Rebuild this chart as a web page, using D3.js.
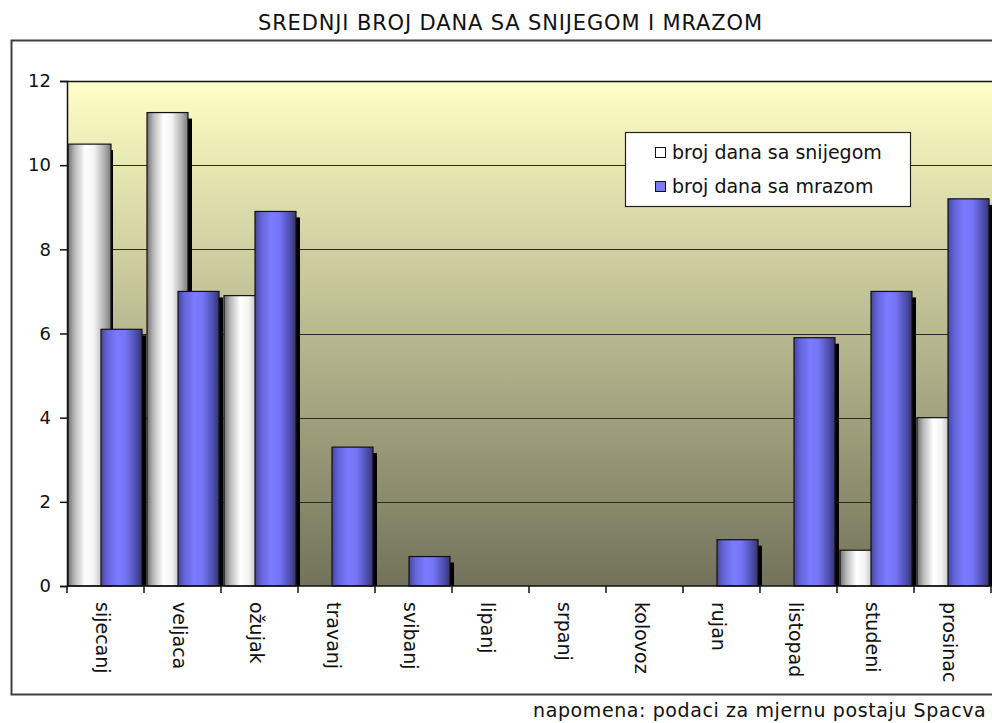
<!DOCTYPE html>
<html>
<head>
<meta charset="utf-8">
<script src="https://cdn.jsdelivr.net/npm/d3@7"></script>
<style>
  body { margin: 0; background: #fff; }
  text { font-family: "DejaVu Sans", Verdana, sans-serif; }
</style>
</head>
<body>
<div id="canvas"></div>
<script>
//chart data
var months = ['sijecanj', 'veljaca', 'ožujak', 'travanj', 'svibanj', 'lipanj',
  'srpanj', 'kolovoz', 'rujan', 'listopad', 'studeni', 'prosinac'];
var snowDays = [10.5, 11.25, 6.9, 0, 0, 0, 0, 0, 0, 0, 0.85, 4.0];
var frostDays = [6.1, 7.0, 8.9, 3.3, 0.7, 0, 0, 0, 1.1, 5.9, 7.0, 9.2];
var yTicks = [0, 2, 4, 6, 8, 10, 12];
var seriesNames = ['broj dana sa snijegom', 'broj dana sa mrazom'];
var title = 'SREDNJI BROJ DANA SA SNIJEGOM I MRAZOM';
var note = 'napomena: podaci za mjernu postaju Spacva';

//canvas settings
var cv = {
  'width': 992,
  'height': 723,
  'plotLeft': 67,
  'plotRight': 991,
  'plotTop': 81,
  'plotBottom': 586
};

var svg = d3.select('#canvas').append('svg')
  .attr('width', cv.width)
  .attr('height', cv.height);

var defs = svg.append('defs');

//plot background gradient
var bg = defs.append('linearGradient')
  .attr('id', 'bgGrad')
  .attr('x1', 0).attr('y1', 0).attr('x2', 0).attr('y2', 1);
bg.append('stop').attr('offset', '0%').attr('stop-color', '#ffffc6');
bg.append('stop').attr('offset', '100%').attr('stop-color', '#72725a');

//bar gradients (cylinder look)
function barGradient(id, stops) {
  var g = defs.append('linearGradient')
    .attr('id', id)
    .attr('x1', 0).attr('y1', 0).attr('x2', 1).attr('y2', 0);
  stops.forEach(function(s) {
    g.append('stop').attr('offset', s[0]).attr('stop-color', s[1]);
  });
}
barGradient('snowGrad', [['0%', '#6e6e6e'], ['15%', '#b8b8b8'], ['40%', '#ffffff'], ['60%', '#f4f4f4'], ['85%', '#b0b0b0'], ['100%', '#7a7a7a']]);
barGradient('frostGrad', [['0%', '#45459a'], ['15%', '#6464d8'], ['40%', '#7b7bff'], ['60%', '#7474f4'], ['85%', '#4e4eb0'], ['100%', '#35356e']]);

//scales
var xScale = d3.scaleBand()
  .domain(months)
  .range([cv.plotLeft, cv.plotRight])
  .padding(0);

var yScale = d3.scaleLinear()
  .domain([0, 12])
  .range([cv.plotBottom, cv.plotTop]);

//outer frame (extends past the right edge)
svg.append('path')
  .attr('d', 'M' + (cv.width + 5) + ',40.5 H11.5 V694.5 H' + (cv.width + 5))
  .attr('fill', 'none')
  .attr('stroke', '#404040')
  .attr('stroke-width', 2);

//title
svg.append('text')
  .attr('x', 258)
  .attr('y', 30)
  .attr('font-size', 21)
  .attr('textLength', 504)
  .attr('lengthAdjust', 'spacing')
  .attr('fill', '#111')
  .text(title);

//plot background
svg.append('rect')
  .attr('x', cv.plotLeft)
  .attr('y', cv.plotTop)
  .attr('width', cv.plotRight - cv.plotLeft + 10)
  .attr('height', cv.plotBottom - cv.plotTop)
  .attr('fill', 'url(#bgGrad)');

//gridlines
svg.selectAll('.grid')
  .data(yTicks.filter(d => d > 0))
  .enter().append('line')
  .attr('class', 'grid')
  .attr('x1', cv.plotLeft)
  .attr('x2', cv.width + 5)
  .attr('y1', d => Math.round(yScale(d)) + 0.5)
  .attr('y2', d => Math.round(yScale(d)) + 0.5)
  .attr('stroke', '#2a2a2a')
  .attr('stroke-width', 1);

//bars
var bandW = xScale.bandwidth();
var snowX = (d, i) => xScale(d) + (i === 0 ? 1 : 3);
var frostX = d => xScale(d) + 34;
var barW = 41;

var groups = svg.selectAll('.month')
  .data(months)
  .enter().append('g')
  .attr('class', 'month');

groups.each(function(d, i) {
  var g = d3.select(this);
  //snow bar with shadow
  if (snowDays[i] > 0) {
    g.append('rect')
      .attr('x', snowX(d, i) + 4)
      .attr('y', yScale(snowDays[i]) + 6)
      .attr('width', barW)
      .attr('height', cv.plotBottom - yScale(snowDays[i]) - 6)
      .attr('fill', '#000');
    g.append('rect')
      .attr('x', snowX(d, i))
      .attr('y', yScale(snowDays[i]))
      .attr('width', barW + (i === 0 ? 2 : 0))
      .attr('height', cv.plotBottom - yScale(snowDays[i]))
      .attr('fill', 'url(#snowGrad)')
      .attr('stroke', '#111')
      .attr('stroke-width', 1.2);
  }
  //frost bar with shadow
  if (frostDays[i] > 0) {
    g.append('rect')
      .attr('x', frostX(d) + 4)
      .attr('y', yScale(frostDays[i]) + 6)
      .attr('width', barW)
      .attr('height', cv.plotBottom - yScale(frostDays[i]) - 6)
      .attr('fill', '#000');
    g.append('rect')
      .attr('x', frostX(d))
      .attr('y', yScale(frostDays[i]))
      .attr('width', barW)
      .attr('height', cv.plotBottom - yScale(frostDays[i]))
      .attr('fill', 'url(#frostGrad)')
      .attr('stroke', '#111')
      .attr('stroke-width', 1.2);
  }
});

//top plot border
svg.append('line')
  .attr('x1', cv.plotLeft)
  .attr('x2', cv.width + 5)
  .attr('y1', cv.plotTop + 0.5)
  .attr('y2', cv.plotTop + 0.5)
  .attr('stroke', '#111')
  .attr('stroke-width', 1.5);

//y axis
var yAxis = d3.axisLeft(yScale)
  .tickValues(yTicks)
  .tickSize(7)
  .tickPadding(9);

var yG = svg.append('g')
  .attr('transform', 'translate(' + cv.plotLeft + ',0)')
  .call(yAxis);
yG.selectAll('path, line').attr('stroke', '#111').attr('stroke-width', 1.5);
yG.selectAll('text')
  .attr('font-size', 18)
  .attr('font-family', '"DejaVu Sans", Verdana, sans-serif')
  .attr('fill', '#111');

//x axis line and ticks
svg.append('line')
  .attr('x1', cv.plotLeft)
  .attr('x2', cv.width + 5)
  .attr('y1', cv.plotBottom)
  .attr('y2', cv.plotBottom)
  .attr('stroke', '#111')
  .attr('stroke-width', 1.5);

svg.selectAll('.xtick')
  .data(months.concat(['end']))
  .enter().append('line')
  .attr('class', 'xtick')
  .attr('x1', (d, i) => cv.plotLeft + i * bandW)
  .attr('x2', (d, i) => cv.plotLeft + i * bandW)
  .attr('y1', cv.plotBottom)
  .attr('y2', cv.plotBottom + 7)
  .attr('stroke', '#111')
  .attr('stroke-width', 1.5);

//month labels, rotated
svg.selectAll('.mlabel')
  .data(months)
  .enter().append('text')
  .attr('class', 'mlabel')
  .attr('transform', d => 'translate(' + (xScale(d) + bandW / 2 - 10) + ',602) rotate(90)')
  .attr('font-size', 19)
  .attr('fill', '#111')
  .text(d => d);

//legend
var legend = svg.append('g')
  .attr('transform', 'translate(625,132)');
legend.append('rect')
  .attr('x', 0.5).attr('y', 0.5)
  .attr('width', 285).attr('height', 74)
  .attr('fill', '#fff')
  .attr('stroke', '#222')
  .attr('stroke-width', 1.2);

var legendFills = ['#ffffff', '#7b7bff'];
seriesNames.forEach(function(name, i) {
  legend.append('rect')
    .attr('x', 30.5)
    .attr('y', 15.5 + i * 34)
    .attr('width', 10)
    .attr('height', 10)
    .attr('fill', legendFills[i])
    .attr('stroke', '#111');
  legend.append('text')
    .attr('x', 47)
    .attr('y', 27 + i * 34)
    .attr('font-size', 19)
    .attr('fill', '#111')
    .text(name);
});

//footnote
svg.append('text')
  .attr('x', 533)
  .attr('y', 717)
  .attr('font-size', 19)
  .attr('letter-spacing', 0.6)
  .attr('fill', '#111')
  .text(note);
</script>
</body>
</html>
